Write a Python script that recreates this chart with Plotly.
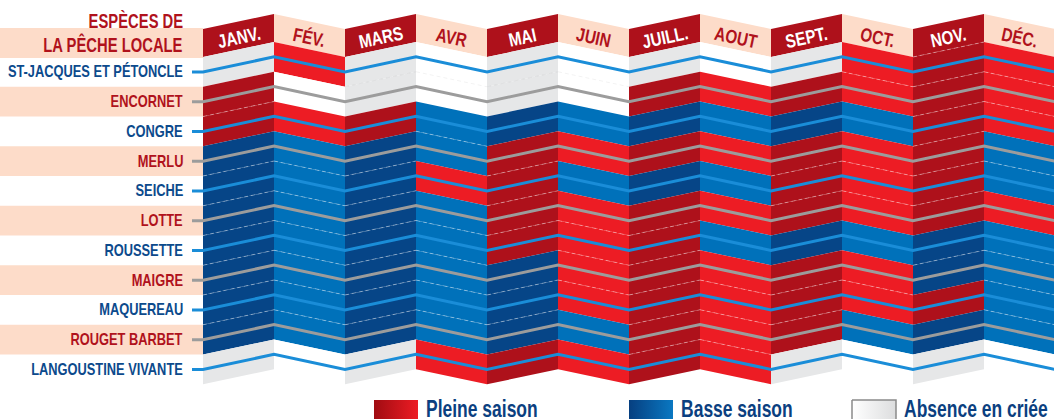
import math
import json
import plotly.graph_objects as go

# ---------------- data ----------------
months = ["JANV.", "FÉV.", "MARS", "AVR", "MAI", "JUIN", "JUILL.", "AOUT", "SEPT.", "OCT.", "NOV.", "DÉC."]
species = ["ST-JACQUES ET PÉTONCLE", "ENCORNET", "CONGRE", "MERLU", "SEICHE", "LOTTE",
           "ROUSSETTE", "MAIGRE", "MAQUEREAU", "ROUGET BARBET", "LANGOUSTINE VIVANTE"]
# P = Pleine saison, B = Basse saison, A = Absence en criée (janvier -> décembre)
st_jacques  = ["A", "P", "A", "A", "A", "A", "A", "A", "A", "P", "P", "P"]
encornet    = ["P", "A", "A", "A", "A", "A", "P", "P", "P", "P", "P", "P"]
congre      = ["P", "P", "P", "B", "B", "B", "B", "B", "B", "B", "P", "P"]
merlu       = ["B", "B", "B", "B", "P", "P", "P", "P", "P", "P", "P", "B"]
seiche      = ["B", "B", "B", "P", "P", "B", "B", "B", "P", "P", "P", "B"]
lotte       = ["B", "B", "B", "B", "P", "P", "P", "P", "P", "P", "P", "P"]
roussette   = ["B", "B", "B", "B", "P", "P", "P", "B", "B", "B", "B", "B"]
maigre      = ["B", "B", "B", "B", "B", "P", "P", "P", "P", "P", "B", "B"]
maquereau   = ["B", "B", "B", "B", "B", "P", "P", "P", "P", "P", "P", "B"]
rouget      = ["B", "B", "B", "B", "B", "B", "P", "P", "P", "B", "B", "B"]
langoustine = ["A", "A", "A", "P", "P", "P", "P", "P", "A", "A", "A", "A"]
status = [st_jacques, encornet, congre, merlu, seiche, lotte, roussette,
          maigre, maquereau, rouget, langoustine]
title_lines = ["ESPÈCES DE", "LA PÊCHE LOCALE"]
legend_labels = ["Pleine saison", "Basse saison", "Absence en criée"]

# ---------------- layout / style ----------------
W, H = 1054, 419
X0, CW, AMP = 203, 71, 15
HEAD_TOP, ROW0, RH = 29, 57, 29.75
FONT = "Liberation Sans, Arial, Helvetica, sans-serif"

DARK = {"P": "#AE111B", "B": "#064587", "A": "#E6E7E8"}
LIGHT = {"P": "#ED1C24", "B": "#0071BA", "A": "#FFFFFF"}
PEACH = "#FDDCC9"
RED_TXT = "#B0121C"
BLUE_TXT = "#0C4A8C"
LINE_BLUE = "#1A8DD8"
LINE_GREY = "#9C9C9C"


def bx(i):
    return X0 + CW * i


def sh(i):
    return 0 if i % 2 == 0 else -AMP


def row_top(i, k):
    return ROW0 + RH * k + sh(i)


fig = go.Figure()
squeeze = []   # horizontal condensing factor per annotation
origin = []    # transform origin per annotation


def poly(xs, ys, color):
    fig.add_trace(go.Scatter(x=xs + [xs[0]], y=ys + [ys[0]], mode="lines", fill="toself",
                             fillcolor=color, line=dict(width=0, color=color),
                             hoverinfo="skip", showlegend=False))


def note(x, y, text, size, color, xanchor="center", angle=0, sq=0.8):
    fig.add_annotation(x=x, y=y, text="<b>%s</b>" % text, showarrow=False,
                       textangle=angle, xanchor=xanchor, yanchor="middle",
                       font=dict(family=FONT, size=size, color=color))
    squeeze.append(sq)
    origin.append({"center": "center", "right": "right center", "left": "left center"}[xanchor])


# label background bands
y_band_head = (HEAD_TOP + ROW0) / 2
poly([0, X0, X0, 0], [y_band_head - 15, y_band_head - 15, y_band_head + 15, y_band_head + 15], PEACH)
for k in range(len(species)):
    if k % 2 == 1:
        yc = ROW0 + RH * (k + 0.5)
        poly([0, X0, X0, 0], [yc - RH / 2, yc - RH / 2, yc + RH / 2, yc + RH / 2], PEACH)

# month headers
ang = math.degrees(math.atan(AMP / CW))
for m, name in enumerate(months):
    xa, xb = bx(m), bx(m + 1)
    dark = (m % 2 == 0)
    poly([xa, xb, xb, xa],
         [HEAD_TOP + sh(m), HEAD_TOP + sh(m + 1), ROW0 + sh(m + 1), ROW0 + sh(m)],
         DARK["P"] if dark else PEACH)
    yc = (HEAD_TOP + ROW0) / 2 + (sh(m) + sh(m + 1)) / 2 + 2
    note((xa + xb) / 2, yc, name, 19, "white" if dark else RED_TXT,
         angle=-ang if dark else ang, sq=0.8)

# cells
for k in range(len(species)):
    for m in range(len(months)):
        s = status[k][m]
        col = DARK[s] if m % 2 == 0 else LIGHT[s]
        xa, xb = bx(m), bx(m + 1)
        poly([xa, xb, xb, xa],
             [row_top(m, k), row_top(m + 1, k), row_top(m + 1, k + 1), row_top(m, k + 1)], col)

# dashed separators between equal neighbouring cells
DASH_W = "rgba(255,255,255,0.38)"
for m in range(len(months)):
    xa, xb = bx(m), bx(m + 1)
    for k in range(len(species) - 1):
        s = status[k][m]
        if s == status[k + 1][m]:
            c = DASH_W if s != "A" else "rgba(0,0,0,0.05)"
            fig.add_trace(go.Scatter(x=[xa, xb], y=[row_top(m, k + 1), row_top(m + 1, k + 1)],
                                     mode="lines", line=dict(color=c, width=1, dash="4px,3px"),
                                     hoverinfo="skip", showlegend=False))
    if m % 2 == 0 and status[0][m] == "P":
        fig.add_trace(go.Scatter(x=[xa, xb], y=[row_top(m, 0), row_top(m + 1, 0)],
                                 mode="lines", line=dict(color=DASH_W, width=1, dash="4px,3px"),
                                 hoverinfo="skip", showlegend=False))

# species lines + labels
for k, name in enumerate(species):
    yl = ROW0 + RH * (k + 0.5)
    xs = [192] + [bx(i) for i in range(len(months) + 1)]
    ys = [yl] + [yl + sh(i) for i in range(len(months) + 1)]
    fig.add_trace(go.Scatter(x=xs, y=ys, mode="lines",
                             line=dict(color=LINE_BLUE if k % 2 == 0 else LINE_GREY, width=3),
                             hoverinfo="skip", showlegend=False))
    note(185, yl, name, 17, BLUE_TXT if k % 2 == 0 else RED_TXT, xanchor="right", sq=0.755)

# title
for t, yy in zip(title_lines, [20, 44]):
    note(185, yy, t, 21, RED_TXT, xanchor="right", sq=0.705)

# legend
leg_x = [374, 629, 852]
leg_scales = [[[0, "#A00C12"], [1, "#ED1C24"]],
              [[0, "#063F80"], [1, "#0A78C2"]],
              [[0, "#FFFFFF"], [1, "#DCDDDE"]]]
for j, lab in enumerate(legend_labels):
    x1 = leg_x[j]
    x2 = x1 + 44
    fig.add_trace(go.Scatter(x=[x1, x2, x2, x1, x1], y=[400, 400, 421, 421, 400], mode="lines",
                             fill="toself",
                             fillgradient=dict(type="horizontal", colorscale=leg_scales[j]),
                             line=dict(width=1.5 if j == 2 else 0, color="#8A8A8A"),
                             hoverinfo="skip", showlegend=False))
    note(x2 + 6, 409, lab, 23, "#0B3F80", xanchor="left", sq=0.76)

fig.update_layout(width=W, height=H, autosize=False,
                  margin=dict(l=0, r=0, t=0, b=0, pad=0),
                  paper_bgcolor="white", plot_bgcolor="white", showlegend=False,
                  xaxis=dict(range=[0, W], visible=False, fixedrange=True),
                  yaxis=dict(range=[H, 0], visible=False, fixedrange=True))

post = """
document.body.style.margin='0';
var gd = document.getElementById('{plot_id}');
var SQ = %s, OR = %s;
function condense() {
  gd.querySelectorAll('g.annotation').forEach(function(g) {
    var i = +g.getAttribute('data-index');
    var t = g.querySelector('text.annotation-text');
    if (!t || isNaN(i) || SQ[i] === undefined) return;
    t.style.transformBox = 'fill-box';
    t.style.transformOrigin = OR[i];
    t.style.transform = 'scaleX(' + SQ[i] + ')';
  });
}
condense();
gd.on('plotly_afterplot', condense);
""" % (json.dumps(squeeze), json.dumps(origin))

fig.write_html("out.html", config={"displayModeBar": False}, post_script=post)
